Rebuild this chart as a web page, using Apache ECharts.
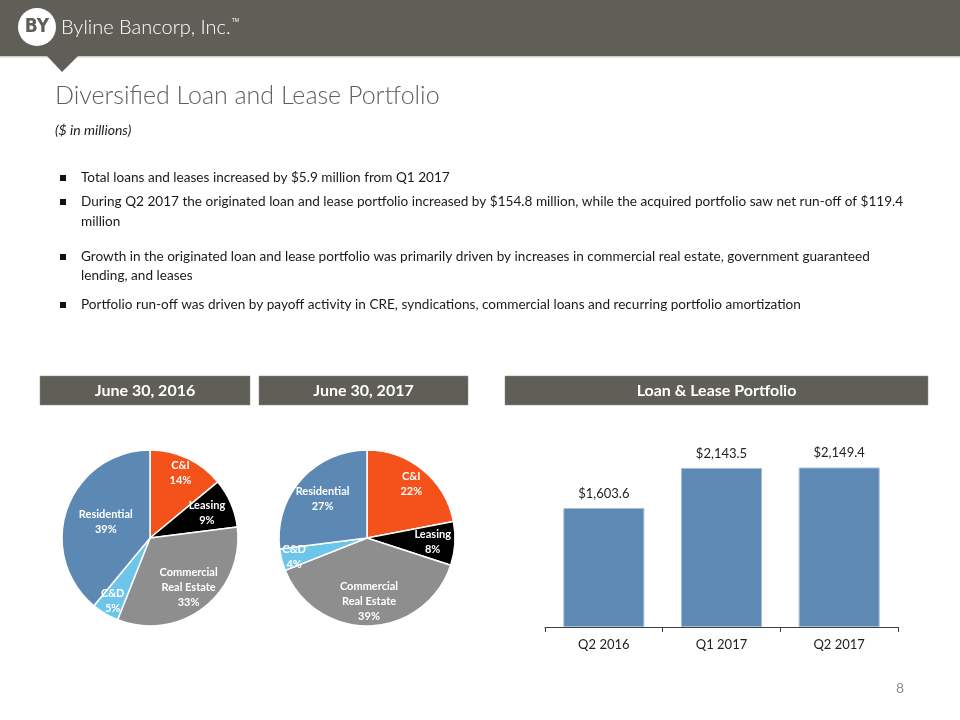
<!DOCTYPE html>
<html><head><meta charset="utf-8">
<script src="https://cdn.jsdelivr.net/npm/echarts@6/dist/echarts.min.js"></script>
<style>html,body{margin:0;padding:0;background:#fff}#c{width:960px;height:720px}</style>
</head><body><div id="c"></div>
<script>
// ---- data ----
const pieCategories = ['C&I', 'Leasing', 'Commercial\nReal Estate', 'C&D', 'Residential'];
const pie2016 = [14, 9, 33, 5, 39];
const pie2017 = [22, 8, 39, 4, 27];
const barCategories = ['Q2 2016', 'Q1 2017', 'Q2 2017'];
const barValues = [1603.6, 2143.5, 2149.4];
const bulletLines = [
  ['Total loans and leases increased by $5.9 million from Q1 2017'],
  ['During Q2 2017 the originated loan and lease portfolio increased by $154.8 million, while the acquired portfolio saw net run-off of $119.4', 'million'],
  ['Growth in the originated loan and lease portfolio was primarily driven by increases in commercial real estate, government guaranteed', 'lending, and leases'],
  ['Portfolio run-off was driven by payoff activity in CRE, syndications, commercial loans and recurring portfolio amortization']
];
const sectionTitles = ['June 30, 2016', 'June 30, 2017', 'Loan & Lease Portfolio'];

// ---- styles ----
const pieColors = ['#f4511b', '#000000', '#8e8e8e', '#6dc6ea', '#5c88b4'];
const pie1LabelR = [0.76, 0.66, 0.67, 0.78, 0.5];
const pie2LabelR = [0.74, 0.7, 0.68, 0.8, 0.63];
const FONT = 'Lato, "Open Sans", sans-serif';
const dark = '#5f5e57';

function pieData(vals) {
  return pieCategories.map((n, i) => ({ name: n, value: vals[i], itemStyle: { color: pieColors[i] } }));
}
function makeLayout(cx, cy, ks) {
  return function (p) {
    const r = p.labelRect;
    const lx = r.x + r.width / 2, ly = r.y + r.height / 2;
    const f = ks[p.dataIndex] / 0.5 - 1;
    return { dx: (lx - cx) * f, dy: (ly - cy) * f };
  };
}
function pieSeries(vals, cx, ks) {
  return {
    type: 'pie', center: [cx, 538], radius: [0, 88], startAngle: 90, clockwise: true,
    data: pieData(vals), silent: true, animation: false,
    itemStyle: { borderColor: '#ffffff', borderWidth: 1.5 },
    label: { show: true, position: 'inside', formatter: '{b}\n{c}%', color: '#ffffff',
      fontFamily: FONT, fontWeight: 'bold', fontSize: 11, lineHeight: 15 },
    labelLine: { show: false },
    labelLayout: makeLayout(cx, 538, ks)
  };
}

const graphics = [];
// header
graphics.push({ type: 'rect', shape: { x: 0, y: 0, width: 960, height: 56 }, style: { fill: dark } });
graphics.push({ type: 'rect', shape: { x: 0, y: 56, width: 960, height: 1.5 }, style: { fill: '#cfcfc8' } });
graphics.push({ type: 'polygon', shape: { points: [[47, 56], [78, 56], [62, 72]] }, style: { fill: dark } });
graphics.push({ type: 'circle', shape: { cx: 37, cy: 27, r: 19 }, style: { fill: '#ffffff' } });
graphics.push({ type: 'text', x: 37, y: 27, style: { text: 'BY', fill: dark, font: 'bold 19px "DejaVu Sans Condensed", Lato, sans-serif', align: 'center', verticalAlign: 'middle' } });
graphics.push({ type: 'text', x: 61, y: 28, style: {
  text: 'Byline Bancorp, Inc.{tm|TM}', fill: '#ffffff', font: '300 20px ' + FONT, verticalAlign: 'middle',
  rich: { tm: { fontSize: 5, verticalAlign: 'top', padding: [0, 0, 8, 1], fill: '#ffffff' } } } });
// title
graphics.push({ type: 'text', x: 55, y: 96, style: { text: 'Diversified Loan and Lease Portfolio', fill: dark, font: '300 25px ' + FONT, verticalAlign: 'middle' } });
graphics.push({ type: 'text', x: 55, y: 130, style: { text: '($ in millions)', fill: '#222222', font: 'italic 14px ' + FONT, verticalAlign: 'middle' } });
// bullets
const bulletY = [[178], [202, 222], [257, 276], [305]];
bulletLines.forEach((lines, i) => {
  graphics.push({ type: 'rect', shape: { x: 60, y: bulletY[i][0] - 3, width: 6, height: 6 }, style: { fill: '#111111' } });
  lines.forEach((t, j) => {
    graphics.push({ type: 'text', x: 81, y: bulletY[i][j], style: { text: t, fill: '#1a1a1a', font: '13.6px ' + FONT, verticalAlign: 'middle' } });
  });
});
// section boxes
const boxes = [[40, 210], [259, 209], [505, 423]];
boxes.forEach((b, i) => {
  graphics.push({ type: 'rect', shape: { x: b[0], y: 376, width: b[1], height: 29 }, style: { fill: dark, stroke: '#8a8a84', lineWidth: 0.5 } });
  graphics.push({ type: 'text', x: b[0] + b[1] / 2, y: 391, style: { text: sectionTitles[i], fill: '#ffffff', font: 'bold 16px ' + FONT, align: 'center', verticalAlign: 'middle' } });
});
// page number
graphics.push({ type: 'text', x: 900, y: 688, style: { text: '8', fill: '#8c8c8c', font: '14px ' + FONT, align: 'center', verticalAlign: 'middle' } });

const chart = echarts.init(document.getElementById('c'), null, { renderer: 'canvas' });
chart.setOption({
  animation: false,
  backgroundColor: '#ffffff',
  graphic: graphics,
  grid: { left: 545, width: 353, top: 441.5, height: 185.5 },
  xAxis: {
    type: 'category', data: barCategories,
    axisLine: { lineStyle: { color: '#404040', width: 1 } },
    axisTick: { show: true, length: 5, lineStyle: { color: '#404040' } },
    axisLabel: { color: '#222222', fontSize: 13, fontFamily: FONT, margin: 11 }
  },
  yAxis: { type: 'value', min: 0, max: 2500, show: false, splitLine: { show: false } },
  series: [
    pieSeries(pie2016, 150, pie1LabelR),
    pieSeries(pie2017, 367, pie2LabelR),
    {
      type: 'bar', data: barValues, barWidth: 81, silent: true,
      itemStyle: { color: '#5d89b4', borderColor: '#a6bdd6', borderWidth: 1 },
      label: { show: true, position: 'top', distance: 8, color: '#222222', fontSize: 13, fontFamily: FONT,
        formatter: p => '$' + p.value.toLocaleString('en-US', { minimumFractionDigits: 1, maximumFractionDigits: 1 }) }
    }
  ]
});
</script></body></html>
